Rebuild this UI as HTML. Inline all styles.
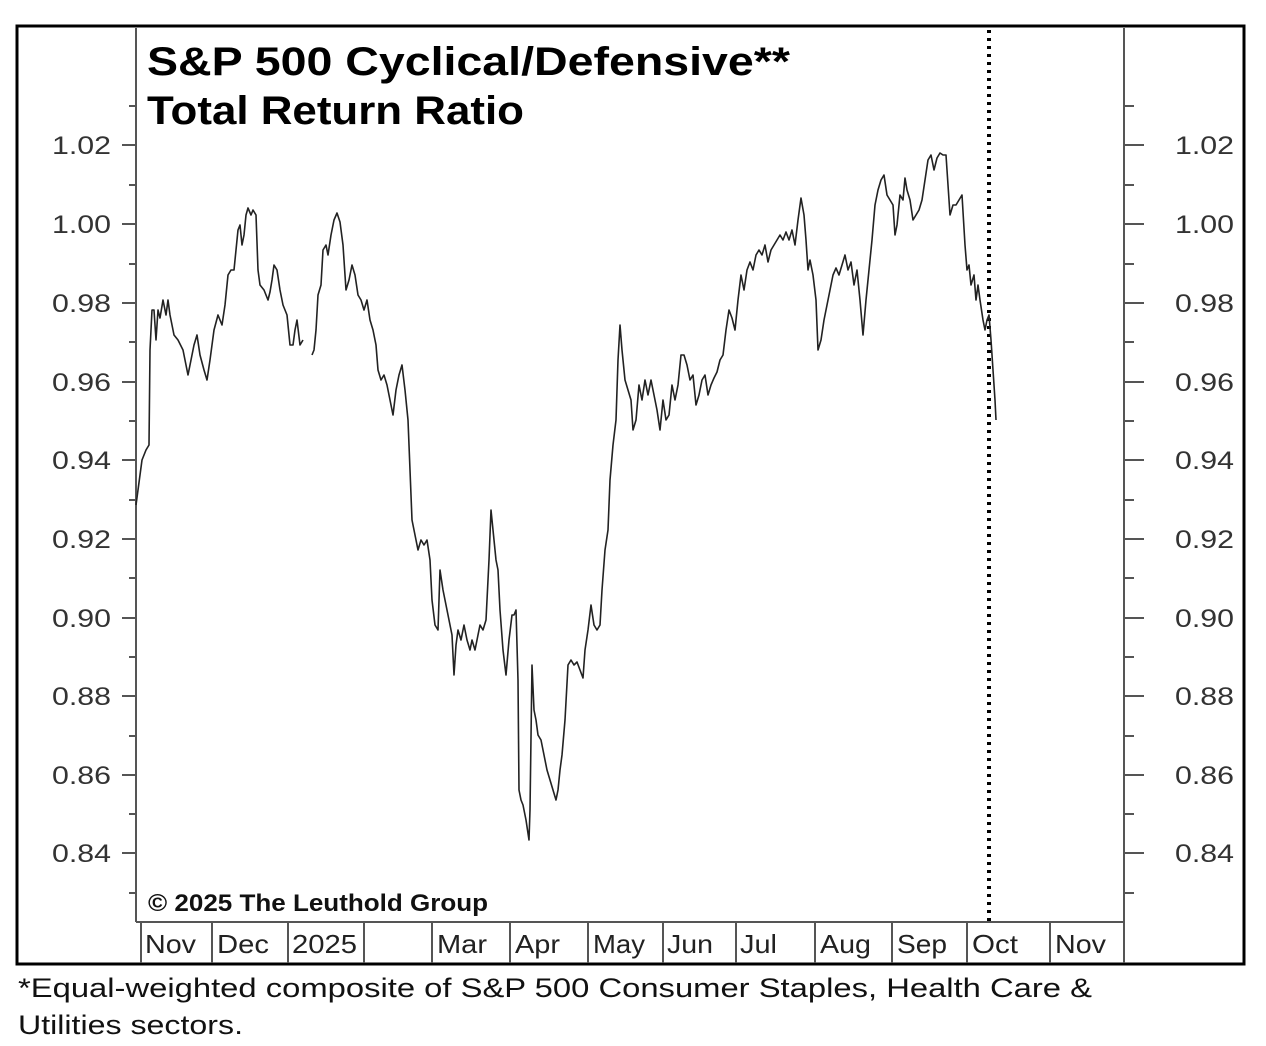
<!DOCTYPE html>
<html><head><meta charset="utf-8"><style>
html,body{margin:0;padding:0;background:#fff}
svg{display:block}
text{font-family:"Liberation Sans",sans-serif}
</style></head><body>
<svg width="1266" height="1046" viewBox="0 0 1266 1046" xmlns="http://www.w3.org/2000/svg">
<rect x="17" y="26" width="1227" height="938" fill="none" stroke="#000" stroke-width="3"/>
<line x1="136" y1="28" x2="136" y2="922" stroke="#555" stroke-width="2"/>
<line x1="1124" y1="28" x2="1124" y2="922" stroke="#555" stroke-width="2"/>
<line x1="136" y1="922" x2="1124" y2="922" stroke="#555" stroke-width="2"/>
<g stroke="#555" stroke-width="2">
<line x1="122" y1="145" x2="136" y2="145"/><line x1="122" y1="224" x2="136" y2="224"/><line x1="122" y1="303" x2="136" y2="303"/><line x1="122" y1="382" x2="136" y2="382"/><line x1="122" y1="460" x2="136" y2="460"/><line x1="122" y1="539" x2="136" y2="539"/><line x1="122" y1="618" x2="136" y2="618"/><line x1="122" y1="696" x2="136" y2="696"/><line x1="122" y1="775" x2="136" y2="775"/><line x1="122" y1="853" x2="136" y2="853"/>
<line x1="129" y1="106" x2="136" y2="106"/><line x1="129" y1="185" x2="136" y2="185"/><line x1="129" y1="264" x2="136" y2="264"/><line x1="129" y1="342" x2="136" y2="342"/><line x1="129" y1="421" x2="136" y2="421"/><line x1="129" y1="500" x2="136" y2="500"/><line x1="129" y1="578" x2="136" y2="578"/><line x1="129" y1="657" x2="136" y2="657"/><line x1="129" y1="736" x2="136" y2="736"/><line x1="129" y1="814" x2="136" y2="814"/><line x1="129" y1="893" x2="136" y2="893"/>
<line x1="1124" y1="145" x2="1144" y2="145"/><line x1="1124" y1="224" x2="1144" y2="224"/><line x1="1124" y1="303" x2="1144" y2="303"/><line x1="1124" y1="382" x2="1144" y2="382"/><line x1="1124" y1="460" x2="1144" y2="460"/><line x1="1124" y1="539" x2="1144" y2="539"/><line x1="1124" y1="618" x2="1144" y2="618"/><line x1="1124" y1="696" x2="1144" y2="696"/><line x1="1124" y1="775" x2="1144" y2="775"/><line x1="1124" y1="853" x2="1144" y2="853"/>
<line x1="1124" y1="106" x2="1134" y2="106"/><line x1="1124" y1="185" x2="1134" y2="185"/><line x1="1124" y1="264" x2="1134" y2="264"/><line x1="1124" y1="342" x2="1134" y2="342"/><line x1="1124" y1="421" x2="1134" y2="421"/><line x1="1124" y1="500" x2="1134" y2="500"/><line x1="1124" y1="578" x2="1134" y2="578"/><line x1="1124" y1="657" x2="1134" y2="657"/><line x1="1124" y1="736" x2="1134" y2="736"/><line x1="1124" y1="814" x2="1134" y2="814"/><line x1="1124" y1="893" x2="1134" y2="893"/>
</g>
<g font-size="25" fill="#333">
<text x="52" y="154" textLength="59" lengthAdjust="spacingAndGlyphs">1.02</text><text x="52" y="233" textLength="59" lengthAdjust="spacingAndGlyphs">1.00</text><text x="52" y="312" textLength="59" lengthAdjust="spacingAndGlyphs">0.98</text><text x="52" y="391" textLength="59" lengthAdjust="spacingAndGlyphs">0.96</text><text x="52" y="469" textLength="59" lengthAdjust="spacingAndGlyphs">0.94</text><text x="52" y="548" textLength="59" lengthAdjust="spacingAndGlyphs">0.92</text><text x="52" y="627" textLength="59" lengthAdjust="spacingAndGlyphs">0.90</text><text x="52" y="705" textLength="59" lengthAdjust="spacingAndGlyphs">0.88</text><text x="52" y="784" textLength="59" lengthAdjust="spacingAndGlyphs">0.86</text><text x="52" y="862" textLength="59" lengthAdjust="spacingAndGlyphs">0.84</text>
<text x="1175" y="154" textLength="59" lengthAdjust="spacingAndGlyphs">1.02</text><text x="1175" y="233" textLength="59" lengthAdjust="spacingAndGlyphs">1.00</text><text x="1175" y="312" textLength="59" lengthAdjust="spacingAndGlyphs">0.98</text><text x="1175" y="391" textLength="59" lengthAdjust="spacingAndGlyphs">0.96</text><text x="1175" y="469" textLength="59" lengthAdjust="spacingAndGlyphs">0.94</text><text x="1175" y="548" textLength="59" lengthAdjust="spacingAndGlyphs">0.92</text><text x="1175" y="627" textLength="59" lengthAdjust="spacingAndGlyphs">0.90</text><text x="1175" y="705" textLength="59" lengthAdjust="spacingAndGlyphs">0.88</text><text x="1175" y="784" textLength="59" lengthAdjust="spacingAndGlyphs">0.86</text><text x="1175" y="862" textLength="59" lengthAdjust="spacingAndGlyphs">0.84</text>
</g>
<g stroke="#555" stroke-width="2">
<line x1="141" y1="922" x2="141" y2="963"/><line x1="212" y1="922" x2="212" y2="963"/><line x1="288" y1="922" x2="288" y2="963"/><line x1="364" y1="922" x2="364" y2="963"/><line x1="432" y1="922" x2="432" y2="963"/><line x1="510" y1="922" x2="510" y2="963"/><line x1="588" y1="922" x2="588" y2="963"/><line x1="663" y1="922" x2="663" y2="963"/><line x1="736" y1="922" x2="736" y2="963"/><line x1="815" y1="922" x2="815" y2="963"/><line x1="892" y1="922" x2="892" y2="963"/><line x1="967" y1="922" x2="967" y2="963"/><line x1="1050" y1="922" x2="1050" y2="963"/><line x1="1124" y1="922" x2="1124" y2="963"/>
</g>
<g font-size="26" fill="#222">
<text x="145" y="953" textLength="51" lengthAdjust="spacingAndGlyphs">Nov</text><text x="217" y="953" textLength="52" lengthAdjust="spacingAndGlyphs">Dec</text><text x="292" y="953" textLength="65" lengthAdjust="spacingAndGlyphs">2025</text><text x="437" y="953" textLength="50" lengthAdjust="spacingAndGlyphs">Mar</text><text x="515" y="953" textLength="45" lengthAdjust="spacingAndGlyphs">Apr</text><text x="593" y="953" textLength="52" lengthAdjust="spacingAndGlyphs">May</text><text x="667" y="953" textLength="46" lengthAdjust="spacingAndGlyphs">Jun</text><text x="740" y="953" textLength="37" lengthAdjust="spacingAndGlyphs">Jul</text><text x="820" y="953" textLength="51" lengthAdjust="spacingAndGlyphs">Aug</text><text x="897" y="953" textLength="50" lengthAdjust="spacingAndGlyphs">Sep</text><text x="972" y="953" textLength="46" lengthAdjust="spacingAndGlyphs">Oct</text><text x="1055" y="953" textLength="51" lengthAdjust="spacingAndGlyphs">Nov</text>
</g>
<text x="147" y="75" font-size="40" font-weight="bold" fill="#000" textLength="643" lengthAdjust="spacingAndGlyphs">S&amp;P 500 Cyclical/Defensive**</text>
<text x="147" y="124" font-size="40" font-weight="bold" fill="#000" textLength="377" lengthAdjust="spacingAndGlyphs">Total Return Ratio</text>
<text x="148" y="911" font-size="24" font-weight="bold" fill="#111" textLength="340" lengthAdjust="spacingAndGlyphs">© 2025 The Leuthold Group</text>
<line x1="989" y1="30" x2="989" y2="922" stroke="#000" stroke-width="4" stroke-dasharray="3,5"/>
<polyline fill="none" stroke="#222" stroke-width="1.6" stroke-linejoin="round" points="136,505 138,490 142,460 146,450 149,445 150,350 152,310 154,310 156,340 158,310 160,318 163,300 166,315 168,300 170,315 174,335 178,340 183,350 188,375 191,360 194,345 197,335 200,355 204,370 207,380 210,360 214,330 218,315 222,325 225,305 228,275 231,270 234,270 236,250 238,230 240,225 242,245 244,235 246,215 248,208 251,215 253,210 256,215 258,270 260,285 264,290 268,300 270,292 272,280 274,265 277,270 280,290 283,305 287,315 290,345 293,345 295,330 297,320 300,345 303,340"/>
<polyline fill="none" stroke="#222" stroke-width="1.6" stroke-linejoin="round" points="312,355 314,350 316,330 318,295 321,285 323,250 326,245 328,255 331,235 334,220 337,213 340,222 343,245 346,290 349,280 352,265 355,275 358,295 361,300 364,310 367,300 370,320 373,330 376,345 378,370 381,380 384,375 387,385 390,400 393,415 396,390 399,375 402,365 405,390 408,420 410,470 412,520 415,535 418,550 421,540 424,545 427,540 430,560 432,600 435,625 438,630 440,570 443,590 446,605 449,620 452,635 454,675 456,645 458,630 461,640 464,625 467,640 470,650 472,640 475,650 477,640 480,625 483,630 486,620 489,560 491,510 493,530 496,560 498,570 500,610 503,650 506,675 509,640 512,615 514,615 516,610 518,680 519,790 521,800 523,805 526,820 529,840 530,810 532,665 534,710 536,720 538,735 541,740 544,755 547,770 550,780 553,790 556,800 558,790 560,770 562,755 565,720 568,665 571,660 574,665 577,662 580,670 583,678 585,650 588,630 591,605 594,625 597,630 600,625 602,590 605,550 608,530 610,480 613,445 616,420 618,360 620,325 622,350 625,380 628,390 631,400 633,430 636,420 639,385 642,400 645,380 648,395 651,380 654,395 657,410 660,430 663,400 666,420 669,415 672,385 675,400 678,385 681,355 684,355 687,365 690,380 693,375 696,405 699,395 702,380 705,375 708,395 711,385 714,378 717,372 720,360 723,355 726,330 729,310 732,318 735,330 738,300 741,275 744,290 747,270 750,262 753,270 756,255 759,250 762,255 765,245 768,262 771,250 774,245 777,240 780,235 783,240 786,232 789,240 792,230 795,245 798,220 801,198 804,215 806,240 808,270 810,260 813,275 816,300 818,350 821,340 824,320 827,305 830,290 833,275 836,268 839,275 842,265 845,255 848,270 851,262 854,285 857,270 860,300 863,335 866,300 869,270 872,240 875,205 878,190 881,180 884,175 887,195 890,200 893,205 895,235 897,225 900,195 903,200 905,178 907,190 910,200 913,220 916,215 919,210 922,200 925,180 928,160 931,155 934,170 937,158 940,153 943,155 946,155 948,185 950,215 953,205 956,205 959,200 962,195 965,245 967,270 969,265 971,285 974,275 976,300 978,285 980,300 983,320 985,330 987,320 989,315 991,340 993,370 995,400 996,420"/>
<text x="18" y="997" font-size="27" fill="#111" textLength="1074" lengthAdjust="spacingAndGlyphs">*Equal-weighted composite of S&amp;P 500 Consumer Staples, Health Care &amp;</text>
<text x="18" y="1034" font-size="27" fill="#111" textLength="225" lengthAdjust="spacingAndGlyphs">Utilities sectors.</text>
</svg>
</body></html>
